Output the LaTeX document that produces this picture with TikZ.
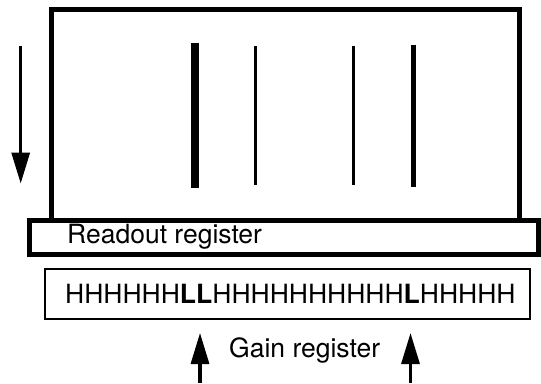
\documentclass[tikz,border=0pt]{standalone}
\usepackage{fontspec}
\setmainfont{TeX Gyre Heros}
\usetikzlibrary{arrows.meta}
\begin{document}
\begin{tikzpicture}[x=1pt,y=-1pt,
  lbl/.style={anchor=base west,inner sep=0pt,font=\fontsize{26.5}{30}\selectfont},
  arr/.style={line width=3.2pt,-{Triangle[length=31pt,width=18pt]}},
  trace/.style={line cap=butt}]
\useasboundingbox (0,0) rectangle (541,383);
% main imaging area
\draw[line width=5pt] (51,9.5) rectangle (519.5,220.5);
% traces
\draw[trace,line width=8pt] (195,43) -- (195,187.5);
\draw[trace,line width=2.7pt] (255.3,46) -- (255.3,185);
\draw[trace,line width=2.7pt] (353.7,46) -- (353.7,185);
\draw[trace,line width=5pt] (413.5,44.5) -- (413.5,186.5);
% readout register
\draw[line width=5pt,fill=white] (29,220.5) rectangle (538.5,254);
\node[lbl] (ro) at (67,243) {Readout register};
% gain register
\draw[line width=2pt] (45,269) rectangle (530,319);
\node[lbl] (hl) at (65,303.5) {HHHHHH\textbf{LL}HHHHHHHHHH\textbf{L}HHHHH};
\node[lbl] (gr) at (229,357) {Gain register};
% arrows
\coordinate (da) at (20.7,46);
\coordinate (db) at (20.7,183.5);
\draw[arr] (da) -- (db);
\coordinate (ua1) at (200,383);
\coordinate (ub1) at (200,333);
\draw[arr] (ua1) -- (ub1);
\coordinate (ua2) at (410.5,383);
\coordinate (ub2) at (410.5,333);
\draw[arr] (ua2) -- (ub2);
\end{tikzpicture}
\end{document}
